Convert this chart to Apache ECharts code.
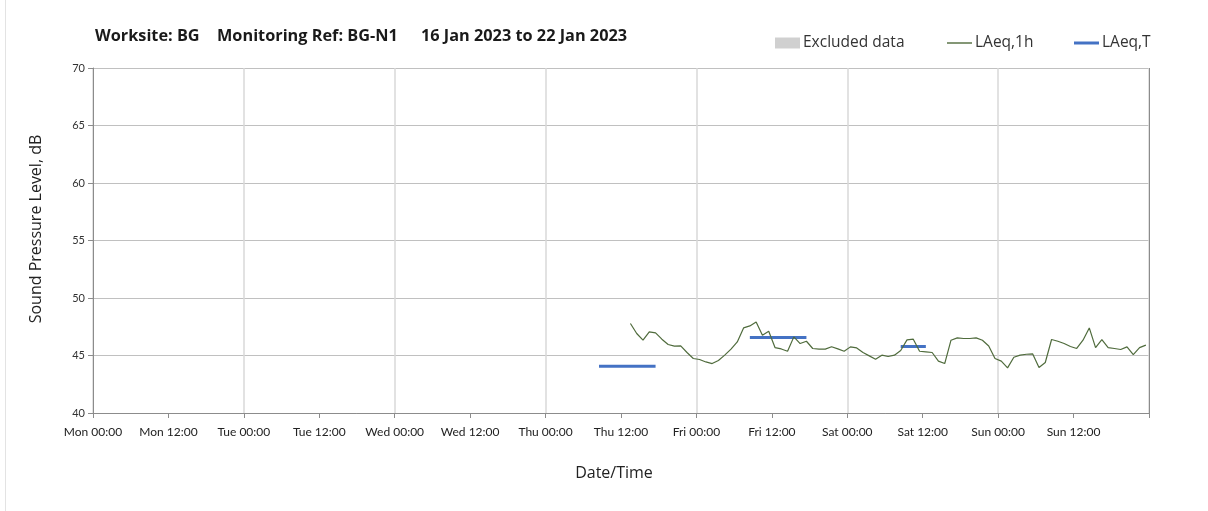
<!DOCTYPE html>
<html>
<head>
<meta charset="utf-8">
<script src="https://cdn.jsdelivr.net/npm/echarts@6/dist/echarts.min.js"></script>
<style>
  html, body { margin: 0; padding: 0; background: #fff; }
  #chart { width: 1208px; height: 511px; }
</style>
</head>
<body>
<div id="chart"></div>
<script>
// ---- Data ----
const dayNames = ['Mon', 'Tue', 'Wed', 'Thu', 'Fri', 'Sat', 'Sun'];
const tickHours = ['00:00', '12:00'];
const titleParts = ['Worksite: BG', 'Monitoring Ref: BG-N1', '16 Jan 2023 to 22 Jan 2023'];
// hourly LAeq,1h, first value at Thu 13:30 (hours since Mon 00:00)
const firstHour = 85.5;
const laeq1h = [
  47.78, 46.91, 46.33, 47.06, 46.97, 46.42, 45.96, 45.81, 45.83, 45.26,
  44.74, 44.65, 44.44, 44.30, 44.57, 45.03, 45.55, 46.18, 47.40, 47.57,
  47.92, 46.77, 47.11, 45.69, 45.57, 45.37, 46.62, 46.04, 46.24, 45.61,
  45.55, 45.55, 45.76, 45.58, 45.37, 45.75, 45.66, 45.26, 44.97, 44.68,
  45.03, 44.91, 45.03, 45.43, 46.36, 46.42, 45.37, 45.32, 45.26, 44.51,
  44.30, 46.33, 46.53, 46.48, 46.48, 46.53, 46.33, 45.83, 44.74, 44.51,
  43.92, 44.85, 45.03, 45.11, 45.14, 43.96, 44.39, 46.39, 46.24, 46.04,
  45.78, 45.61, 46.33, 47.40, 45.69, 46.39, 45.69, 45.61, 45.52, 45.75,
  45.08, 45.69, 45.90
];
// LAeq,T periods (hours since Mon 00:00)
const periodStart = [80.5, 104.5, 128.5];
const periodEnd   = [89.5, 113.5, 132.5];
const periodValue = [44.07, 46.57, 45.78];

const yMin = 40, yMax = 70, yStep = 5;
const xMax = 168;
const yAxisName = 'Sound Pressure Level, dB';
const xAxisName = 'Date/Time';

// ---- Build ----
const lineData = laeq1h.map((v, i) => [firstHour + i, v]);
const FONT = 'Lato, "Open Sans", sans-serif';
const WFONT = '"Open Sans", Lato, sans-serif';
const GREEN = '#4f6b3c';
const BLUE = '#4472C4';

const tSeries = periodStart.map((s, i) => ({
  name: 'LAeq,T',
  type: 'line',
  xAxisIndex: 0,
  symbol: 'none',
  data: [[s, periodValue[i]], [periodEnd[i], periodValue[i]]],
  lineStyle: { color: BLUE, width: 3 },
  itemStyle: { color: BLUE },
  z: 3
}));

const legendText = { fontFamily: WFONT, fontSize: 15.5, color: '#333', padding: [0, 0, 0, -2] };

const chart = echarts.init(document.getElementById('chart'), null, { renderer: 'canvas' });
chart.setOption({
  animation: false,
  backgroundColor: '#ffffff',
  title: [
    { text: titleParts[0], left: 95, top: 28 },
    { text: titleParts[1], left: 217, top: 28 },
    { text: titleParts[2], left: 421, top: 28 }
  ].map(t => Object.assign(t, {
    padding: 0,
    textStyle: { fontFamily: WFONT, fontSize: 16.3, fontWeight: 'bold', color: '#1a1a1a' }
  })),
  legend: [
    { data: [{ name: 'Excluded data', icon: 'rect', itemStyle: { color: '#d0d0d0' } }], left: 775, itemHeight: 11 },
    { data: [{ name: 'LAeq,1h', icon: 'rect', itemStyle: { color: GREEN } }], left: 947, itemHeight: 1.4 },
    { data: [{ name: 'LAeq,T', icon: 'rect', itemStyle: { color: BLUE } }], left: 1074, itemHeight: 3 }
  ].map(l => Object.assign(l, {
    top: 35, padding: 0, itemWidth: 25, itemGap: 0,
    textStyle: legendText
  })),
  grid: { left: 93, right: 59, top: 68, bottom: 98, containLabel: false },
  xAxis: [
    {
      type: 'value', min: 0, max: xMax, interval: 12,
      axisLine: { lineStyle: { color: '#8c8c8c', width: 1 } },
      axisTick: { show: true, length: 5, lineStyle: { color: '#8c8c8c' } },
      axisLabel: {
        fontFamily: FONT, fontSize: 12, color: '#222', margin: 13,
        formatter: v => {
          if (v >= xMax) return '';
          const d = Math.floor(v / 24);
          const h = (v % 24) / 12;
          return dayNames[d] + ' ' + tickHours[h];
        }
      },
      splitLine: { show: false }
    },
    {
      type: 'value', min: 0, max: xMax, interval: 24, position: 'bottom',
      axisLine: { show: false }, axisTick: { show: false }, axisLabel: { show: false },
      splitLine: { show: true, lineStyle: { color: '#d9d9d9', width: 1.5 } }
    }
  ],
  yAxis: {
    type: 'value', min: yMin, max: yMax, interval: yStep,
    axisLine: { show: true, lineStyle: { color: '#8c8c8c' } },
    axisTick: { show: true, length: 5, lineStyle: { color: '#8c8c8c' } },
    axisLabel: { fontFamily: FONT, fontSize: 11, color: '#333', margin: 8 },
    splitLine: { show: true, lineStyle: { color: '#c0c0c0', width: 1 } }
  },
  series: [
    {
      name: 'Excluded data', type: 'bar', data: [],
      itemStyle: { color: '#d0d0d0' }
    },
    {
      name: 'LAeq,1h', type: 'line', symbol: 'none', xAxisIndex: 0,
      data: lineData,
      lineStyle: { color: GREEN, width: 1.2 },
      itemStyle: { color: GREEN },
      z: 4
    }
  ].concat(tSeries),
  graphic: [
    { type: 'line', shape: { x1: 1149.5, y1: 68, x2: 1149.5, y2: 413 }, style: { stroke: '#8c8c8c', lineWidth: 1 }, z: 1 },
    { type: 'line', shape: { x1: 5.5, y1: 0, x2: 5.5, y2: 511 }, style: { stroke: '#e3e3e3', lineWidth: 1 } },
    {
      type: 'text', x: 36, y: 229, rotation: Math.PI / 2,
      style: { text: yAxisName, fontFamily: WFONT, fontSize: 16, fill: '#222', align: 'center', verticalAlign: 'middle' }
    },
    {
      type: 'text', x: 614, y: 473,
      style: { text: xAxisName, fontFamily: WFONT, fontSize: 16, fill: '#222', align: 'center', verticalAlign: 'middle' }
    }
  ]
});
</script>
</body>
</html>
